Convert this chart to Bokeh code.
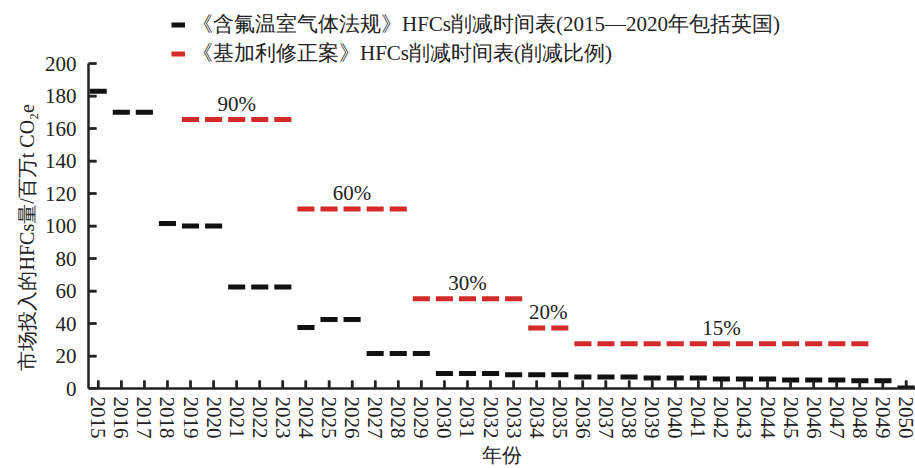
import numpy as np
from bokeh.plotting import figure
from bokeh.models import Legend, LegendItem, FixedTicker, Range1d, ColumnDataSource, Title
from bokeh.core.properties import value
from bokeh.embed import file_html
from bokeh.resources import INLINE

# ---- data ----
years = list(range(2015, 2051))
eu_values = [183, 170, 170, 101.5, 100, 100, 62.5, 62.5, 62.5, 37.5, 42.5, 42.5,
             21.5, 21.5, 21.5, 9.2, 9.2, 9.2, 8.4, 8.4, 8.4, 7.1, 7.1, 7.1,
             6.4, 6.4, 6.4, 5.9, 5.9, 5.9, 5.3, 5.3, 5.3, 4.8, 4.8, 0.3]
kigali_start = [2019, 2024, 2029, 2034, 2036]
kigali_end = [2023, 2028, 2033, 2035, 2048]
kigali_level = [165.5, 110.5, 55.2, 37.2, 27.6]
kigali_labels = ["90%", "60%", "30%", "20%", "15%"]
y_ticks = [0, 20, 40, 60, 80, 100, 120, 140, 160, 180, 200]
legend_labels = ["《含氟温室气体法规》HFCs削减时间表(2015—2020年包括英国)",
                 "《基加利修正案》HFCs削减时间表(削减比例)"]
x_title = "年份"
y_title = "市场投入的HFCs量/百万t CO₂e"

FONT = "Liberation Serif"
HALF = 0.37
BLACK = "#111111"
RED = "#d42a2a"
AXC = "#222222"
W, H = 915, 468
LEFT, TOP = 88, 0
FRAME_W = W - LEFT
FRAME_H = 388
AX_MAX = 200
X0, X1 = 2014.58, 2050.41
Y0, Y1 = 0, 238.8
TICK_PX = 8

yrs = np.array(years, dtype=float)
eu_src = ColumnDataSource(dict(x0=yrs - HALF, x1=yrs + HALF, y=eu_values))

kx, ky = [], []
for s, e, lv in zip(kigali_start, kigali_end, kigali_level):
    for yr in range(s, e + 1):
        kx.append(yr)
        ky.append(lv)
kx = np.array(kx, dtype=float)
kig_src = ColumnDataSource(dict(x0=kx - HALF, x1=kx + HALF, y=ky))

lab_src = ColumnDataSource(dict(
    x=[(s + e) / 2 for s, e in zip(kigali_start, kigali_end)],
    y=kigali_level, t=kigali_labels))

p = figure(width=W, height=H, output_backend="svg", toolbar_location=None,
           x_range=Range1d(X0, X1), y_range=Range1d(Y0, Y1),
           min_border_left=LEFT, min_border_right=0, min_border_top=TOP, min_border_bottom=0)
p.outline_line_color = None
p.xgrid.grid_line_color = None
p.ygrid.grid_line_color = None

# inward tick marks, one broken polyline per axis, built from the tick lists
len_y = TICK_PX * (Y1 - Y0) / FRAME_H
len_x = TICK_PX * (X1 - X0) / FRAME_W
txs, tys = [], []
for v in years:
    txs += [v, v, np.nan]
    tys += [Y0, Y0 + len_y, np.nan]
uxs, uys = [], []
for v in y_ticks:
    uxs += [X0, X0 + len_x, np.nan]
    uys += [v, v, np.nan]
p.line(x=txs, y=tys, line_color=AXC, line_width=2.5)
p.line(x=uxs, y=uys, line_color=AXC, line_width=2.5)

r_kig = p.segment(x0="x0", y0="y", x1="x1", y1="y", source=kig_src,
                  line_color=RED, line_width=5)
r_eu = p.segment(x0="x0", y0="y", x1="x1", y1="y", source=eu_src,
                 line_color=BLACK, line_width=5)

p.text(x="x", y="y", text="t", source=lab_src, text_font=value(FONT),
       text_font_size="21px", text_align="center", text_baseline="middle",
       y_offset=-16, text_color=AXC)

for ax in (p.xaxis[0], p.yaxis[0]):
    ax.axis_line_width = 2.5
    ax.axis_line_color = AXC
    ax.major_tick_line_color = AXC
    ax.major_tick_line_width = 2
    ax.major_tick_in = TICK_PX
    ax.major_tick_out = 0
    ax.minor_tick_line_color = None
    ax.major_label_text_font = FONT
    ax.major_label_text_font_size = "21px"
    ax.major_label_text_color = AXC
    ax.axis_label_text_font = FONT
    ax.axis_label_text_font_size = "20px"
    ax.axis_label_text_font_style = "normal"
    ax.axis_label_text_color = AXC

p.xaxis.ticker = FixedTicker(ticks=years)
p.xaxis.major_label_orientation = "vertical"
p.xaxis.major_label_standoff = 8
p.xaxis.axis_label = x_title
p.xaxis.axis_label_standoff = 2

p.yaxis.ticker = FixedTicker(ticks=y_ticks)
p.yaxis.bounds = (0, AX_MAX)
p.yaxis.major_label_standoff = 12

# y title anchored at the bottom of the frame and lifted a little, like the reference
ytitle = Title(text=y_title, align="left", offset=18, standoff=8,
               text_font=FONT, text_font_size="20px", text_font_style="normal",
               text_color=AXC)
p.add_layout(ytitle, "left")

LEG_H = 55
LEG_TOP = 12
legend = Legend(items=[LegendItem(label=legend_labels[0], renderers=[r_eu]),
                       LegendItem(label=legend_labels[1], renderers=[r_kig])],
                location=(83, FRAME_H - LEG_H - LEG_TOP), orientation="vertical",
                border_line_color=None, background_fill_alpha=0,
                padding=1, spacing=1, margin=0,
                glyph_width=14, glyph_height=25, label_height=25,
                label_standoff=7, label_text_font=FONT,
                label_text_font_size="21px", label_text_color=AXC)
p.add_layout(legend)

open("out.html", "w").write(file_html(p, INLINE))
